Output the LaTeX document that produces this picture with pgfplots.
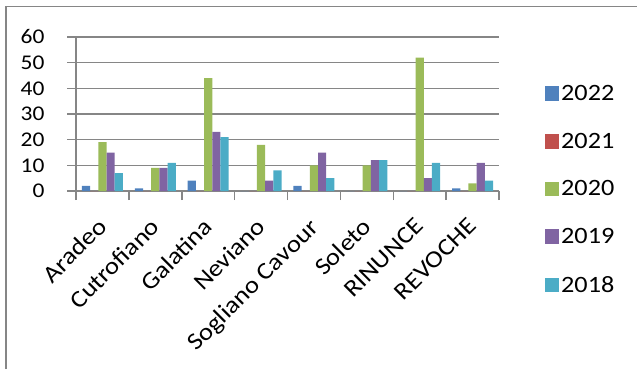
\documentclass[border=0pt]{standalone}
\usepackage{pgfplots}
\pgfplotsset{compat=1.18}
\usepackage{fontspec}
\setmainfont{Carlito}[FakeStretch=1.12]
\definecolor{cA}{HTML}{4F81BD}
\definecolor{cB}{HTML}{C0504D}
\definecolor{cC}{HTML}{9BBB59}
\definecolor{cD}{HTML}{8064A2}
\definecolor{cE}{HTML}{4BACC6}
\definecolor{gridgray}{HTML}{868686}
\begin{document}
\begin{tikzpicture}[x=1bp,y=1bp]
\useasboundingbox (0,0) rectangle (637,369);
\draw[gridgray, line width=1.5bp] (6,0) -- (6,362.5) -- (637,362.5);
\begin{axis}[
  at={(76bp,178bp)}, anchor=south west,
  scale only axis, width=423bp, height=154bp,
  ybar=0pt, bar width=0.155,
  xmin=-0.5, xmax=7.5, ymin=0, ymax=60,
  ytick={0,10,...,60},
  xtick={-0.5,0.5,...,7.5},
  x tick label as interval,
  xticklabels={Aradeo,Cutrofiano,Galatina,Neviano,Sogliano Cavour,Soleto,RINUNCE,REVOCHE},
  ymajorgrids,
  grid style={draw=gridgray, line width=1.5bp},
  axis x line=bottom, axis y line=left,
  axis line style={-, draw=gridgray, line width=1.5bp},
  tick align=outside, major tick length=9bp,
  tick style={draw=gridgray, line width=1.5bp},
  /pgf/number format/assume math mode=true,
  yticklabel style={font=\fontsize{21}{24}\selectfont, xshift=-19bp},
  xticklabel style={font=\fontsize{24}{27}\selectfont, xshift=-6bp, yshift=-15bp, rotate=45, anchor=north east, inner sep=1bp},
  legend style={draw=none, at={(1.1,0.01)}, anchor=west,
    font=\fontsize{23.5}{26}\selectfont, row sep=27bp,
    nodes={inner sep=2bp}},
  legend image code/.code={\fill[#1] (0bp,-7.3bp) rectangle (14.7bp,7.3bp);},
  legend cell align=left,
]
\addplot[fill=cA, draw=none] coordinates {(0,2) (1,1) (2,4) (3,0) (4,2) (5,0) (6,0) (7,1)};
\addplot[fill=cB, draw=none] coordinates {(0,0) (1,0) (2,0) (3,0) (4,0) (5,0) (6,0) (7,0)};
\addplot[fill=cC, draw=none] coordinates {(0,19) (1,9) (2,44) (3,18) (4,10) (5,10) (6,52) (7,3)};
\addplot[fill=cD, draw=none] coordinates {(0,15) (1,9) (2,23) (3,4) (4,15) (5,12) (6,5) (7,11)};
\addplot[fill=cE, draw=none] coordinates {(0,7) (1,11) (2,21) (3,8) (4,5) (5,12) (6,11) (7,4)};
\legend{2022,2021,2020,2019,2018}
\end{axis}
\end{tikzpicture}
\end{document}
